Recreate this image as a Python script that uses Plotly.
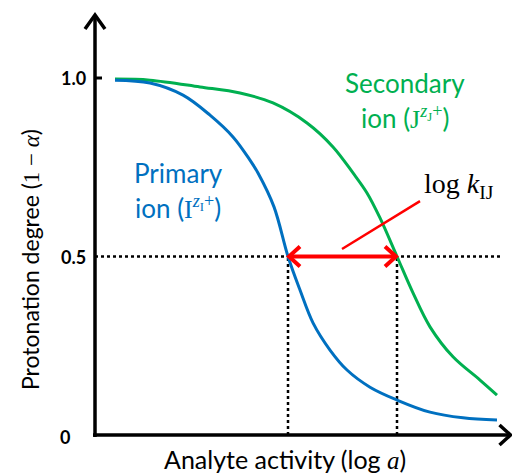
import plotly.graph_objects as go

# ---- data (log a in arbitrary units; protonation degree 1 - alpha) ----
primary_x = [0.5, 1.375, 2.2, 2.875, 3.45, 3.875, 4.075, 4.475, 4.825, 5.125, 5.45, 5.875, 6.3, 6.875, 7.55, 8.375, 9.2, 10.05]
primary_y = [0.994, 0.986, 0.952, 0.896, 0.835, 0.770, 0.734, 0.639, 0.500, 0.406, 0.314, 0.238, 0.182, 0.134, 0.098, 0.064, 0.048, 0.042]
secondary_x = [0.5, 1.375, 2.625, 3.625, 4.45, 5.3, 5.95, 6.45, 6.8, 7.125, 7.55, 7.95, 8.375, 8.95, 9.625, 10.05]
secondary_y = [0.997, 0.994, 0.975, 0.958, 0.930, 0.874, 0.807, 0.734, 0.678, 0.608, 0.500, 0.398, 0.303, 0.219, 0.154, 0.112]
tick_vals = [0, 0.5, 1.0]
tick_text = ["0", "0.5", "1.0"]
half_level = 0.5
x_half_primary = 4.825
x_half_secondary = 7.55
x_end = 10.175

# ---- pixel helpers (figure area == plot area) ----
SX, SY = 40.0, 357.0
X0PX, Y0PX = 95.0, 435.0
def dx(p): return p / SX
def dy(p): return p / SY
XR = [-X0PX / SX, (512 - X0PX) / SX]
YR = [-(475 - Y0PX) / SY, Y0PX / SY]

BLUE = "#0070C0"
GREEN = "#00B050"
RED = "#FF0000"
SANS = "Lato"
SERIF = "Liberation Serif"

fig = go.Figure()

# dotted guides
fig.add_trace(go.Scatter(x=[0, x_end], y=[half_level, half_level], mode="lines",
                         line=dict(color="black", width=2.5, dash="dot"), hoverinfo="skip"))
for xv in [x_half_primary, x_half_secondary]:
    fig.add_trace(go.Scatter(x=[xv, xv], y=[0, half_level], mode="lines",
                             line=dict(color="black", width=2.5, dash="dot"), hoverinfo="skip"))

# curves
fig.add_trace(go.Scatter(x=secondary_x, y=secondary_y, mode="lines",
                         line=dict(color=GREEN, width=3, shape="spline", smoothing=1.0)))
fig.add_trace(go.Scatter(x=primary_x, y=primary_y, mode="lines",
                         line=dict(color=BLUE, width=3, shape="spline", smoothing=1.0)))

# axes
fig.add_trace(go.Scatter(x=[0, 0], y=[dy(-2), YR[1] - dy(16)], mode="lines",
                         line=dict(color="black", width=3.5), hoverinfo="skip"))
fig.add_trace(go.Scatter(x=[-dx(2), XR[1] - dx(2)], y=[0, 0], mode="lines",
                         line=dict(color="black", width=3.5), hoverinfo="skip"))
# axis chevrons
ty = YR[1] - dy(15)
fig.add_trace(go.Scatter(x=[-dx(10), 0, dx(10)], y=[ty - dy(14), ty, ty - dy(14)], mode="lines",
                         line=dict(color="black", width=3.5), hoverinfo="skip"))
tx = XR[1] - dx(1.5)
fig.add_trace(go.Scatter(x=[tx - dx(11), tx, tx - dx(11)], y=[dy(10), 0, -dy(10)], mode="lines",
                         line=dict(color="black", width=3.5), hoverinfo="skip"))
# tick at 1.0
fig.add_trace(go.Scatter(x=[0, dx(7)], y=[1.0, 1.0], mode="lines",
                         line=dict(color="black", width=3), hoverinfo="skip"))

# red double arrow
fig.add_trace(go.Scatter(x=[x_half_primary + dx(2), x_half_secondary - dx(2)], y=[half_level, half_level],
                         mode="lines", line=dict(color=RED, width=4), hoverinfo="skip"))
for tip, s in [(x_half_primary, 1), (x_half_secondary, -1)]:
    fig.add_trace(go.Scatter(x=[tip + s * dx(12), tip + s * dx(1), tip + s * dx(12)],
                             y=[half_level + dy(10), half_level, half_level - dy(10)], mode="lines",
                             line=dict(color=RED, width=4), hoverinfo="skip"))
# leader line
lead_x = [6.175, 8.125]
lead_y = [0.521, 0.655]
fig.add_trace(go.Scatter(x=lead_x, y=lead_y, mode="lines", line=dict(color=RED, width=2.5), hoverinfo="skip"))

ann = []
def A(x, y, text, size, color="black", family=SANS, **kw):
    ann.append(dict(x=x, y=y, xref="x", yref="y", text=text, showarrow=False,
                    font=dict(size=size, color=color, family=family), **kw))

# tick labels
for v, t in zip(tick_vals[1:], tick_text[1:]):
    A(-dx(7), v, "<b>" + t + "</b>", 18, xanchor="right")
A(-dx(30), tick_vals[0] - dy(2), "<b>" + tick_text[0] + "</b>", 18, xanchor="center")

# axis titles
A(dx(190), -dy(40), "Analyte activity (log <i><span style='font-family:Liberation Serif'>a</span></i>)", 25,
  yanchor="bottom", borderpad=0)
A(-dx(65), dy(175), "Protonation degree (<span style='font-family:Liberation Serif'>1 − <i>α</i></span>)", 23,
  textangle=-90)

# series labels
A(dx(310), dy(352), "Secondary", 26, GREEN)
A(dx(310), dy(318),
  "ion (<span style='font-family:Liberation Serif'>J<sup><i>z</i><sub>J</sub>+</sup></span>)", 26, GREEN)
A(dx(83), dy(262), "Primary", 26, BLUE)
A(dx(83), dy(228),
  "ion (<span style='font-family:Liberation Serif'>I<sup><i>z</i><sub>I</sub>+</sup></span>)", 26, BLUE)

# log k_IJ
A(dx(364), dy(250), "log <i>k</i><sub>IJ</sub>", 28, "black", SERIF)

fig.update_layout(
    width=512, height=475, margin=dict(l=0, r=0, t=0, b=0),
    paper_bgcolor="white", plot_bgcolor="white", showlegend=False,
    xaxis=dict(range=XR, visible=False, fixedrange=True),
    yaxis=dict(range=YR, visible=False, fixedrange=True),
    annotations=ann,
)
fig.write_html("out.html")
